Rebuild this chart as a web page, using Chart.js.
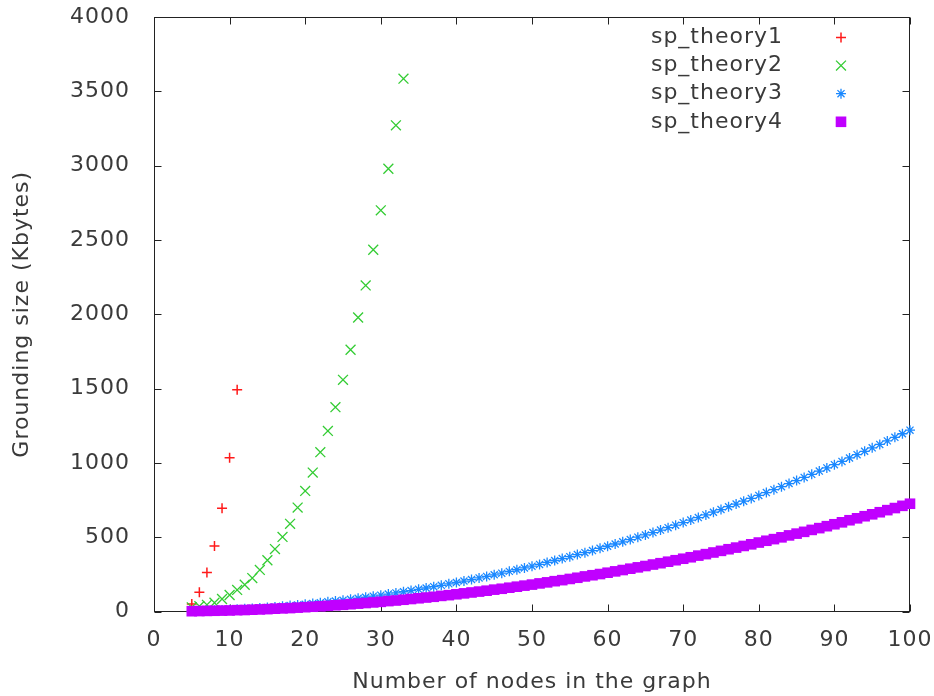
<!DOCTYPE html>
<html>
<head>
<meta charset="utf-8">
<script src="https://cdn.jsdelivr.net/npm/chart.js@4"></script>
<style>
  html, body { margin: 0; padding: 0; background: #fff; }
  #wrap { width: 934px; height: 696px; position: relative; }
</style>
</head>
<body>
<div id="wrap"><canvas id="groundingChart"></canvas></div>
<script>
// values
const nodes1 = [5, 6, 7, 8, 9, 10, 11];
const theory1 = [50, 130, 262, 440, 695, 1035, 1492];

const nodes2 = [5, 6, 7, 8, 9, 10, 11, 12, 13, 14, 15, 16, 17, 18, 19,
  20, 21, 22, 23, 24, 25, 26, 27, 28, 29, 30, 31, 32, 33];
const theory2 = [28, 36, 45, 59, 84, 111, 145, 180, 225, 280, 345, 420, 502, 590, 699,
  811, 935, 1072, 1215, 1375, 1559, 1761, 1978, 2194, 2434, 2699, 2979, 3271, 3585];

const nodes34 = [5, 6, 7, 8, 9, 10, 11, 12, 13, 14, 15, 16, 17, 18, 19, 20,
  21, 22, 23, 24, 25, 26, 27, 28, 29, 30, 31, 32, 33, 34, 35, 36, 37, 38, 39, 40,
  41, 42, 43, 44, 45, 46, 47, 48, 49, 50, 51, 52, 53, 54, 55, 56, 57, 58, 59, 60,
  61, 62, 63, 64, 65, 66, 67, 68, 69, 70, 71, 72, 73, 74, 75, 76, 77, 78, 79, 80,
  81, 82, 83, 84, 85, 86, 87, 88, 89, 90, 91, 92, 93, 94, 95, 96, 97, 98, 99, 100];
const theory3 = [3, 4, 6, 8, 10, 12, 15, 18, 21, 24, 27, 31, 35, 40, 44, 49,
  54, 59, 65, 70, 76, 82, 89, 96, 103, 110, 117, 125, 133, 141, 149, 158, 167, 176, 186, 195,
  205, 215, 226, 236, 247, 258, 270, 281, 293, 305, 317, 330, 343, 356, 369, 383, 396, 410, 425, 439,
  454, 469, 484, 500, 515, 531, 548, 564, 581, 598, 615, 632, 650, 668, 686, 705, 723, 742, 761, 781,
  800, 820, 840, 861, 881, 902, 923, 945, 966, 988, 1010, 1033, 1055, 1078, 1101, 1124, 1148, 1172, 1196, 1220];
const theory4 = [2, 3, 4, 5, 6, 7, 9, 10, 12, 14, 16, 19, 21, 23, 26, 29,
  32, 35, 38, 42, 45, 49, 53, 57, 61, 65, 70, 74, 79, 84, 89, 94, 99, 105, 110, 116,
  122, 128, 134, 140, 147, 153, 160, 167, 174, 181, 189, 196, 204, 211, 219, 227, 236, 244, 252, 261,
  270, 279, 288, 297, 306, 316, 325, 335, 345, 355, 365, 376, 386, 397, 408, 419, 430, 441, 452, 464,
  476, 487, 499, 512, 524, 536, 549, 561, 574, 587, 600, 614, 627, 641, 654, 668, 682, 696, 711, 725];

const TEXT = '#3a3a3a';
const FONT = 'DejaVu Sans';

function toPoints(xs, ys) {
  return xs.map((x, i) => ({ x: x, y: ys[i] }));
}

// fixed axis sizes; drop the label overhang padding so the plot box stays put
function fixSize(s, w, h) {
  if (w) s.width = w;
  if (h) s.height = h;
  s.paddingTop = 0;
  s.paddingBottom = 0;
  s.paddingLeft = 0;
  s.paddingRight = 0;
}

// wider glyph spacing, like the gnuplot png text
const spacingPlugin = {
  id: 'spacing',
  beforeLayout(chart) { chart.ctx.letterSpacing = '1px'; },
  beforeDraw(chart) { chart.ctx.letterSpacing = '1px'; }
};

// box border with inward ticks on all four sides
const framePlugin = {
  id: 'frame',
  beforeDatasetsDraw(chart) {
    const { ctx, chartArea: a, scales } = chart;
    ctx.save();
    ctx.strokeStyle = '#222';
    ctx.lineWidth = 1;
    const l = Math.round(a.left) + 0.5, r = Math.round(a.right) - 0.5;
    const t = Math.round(a.top) + 0.5, b = Math.round(a.bottom) - 0.5;
    ctx.strokeRect(l, t, r - l, b - t);
    ctx.beginPath();
    scales.x.ticks.forEach(tk => {
      const px = Math.round(scales.x.getPixelForValue(tk.value)) + 0.5;
      ctx.moveTo(px, b); ctx.lineTo(px, b - 7);
      ctx.moveTo(px, t); ctx.lineTo(px, t + 7);
    });
    scales.y.ticks.forEach(tk => {
      const py = Math.round(scales.y.getPixelForValue(tk.value)) + 0.5;
      ctx.moveTo(l, py); ctx.lineTo(l + 7, py);
      ctx.moveTo(r, py); ctx.lineTo(r - 7, py);
    });
    ctx.stroke();
    ctx.restore();
  }
};

// key in the top right corner of the plot
const keyPlugin = {
  id: 'key',
  afterDraw(chart) {
    const ctx = chart.ctx;
    ctx.save();
    ctx.letterSpacing = '1px';
    ctx.font = '22px "' + FONT + '"';
    ctx.textAlign = 'right';
    ctx.textBaseline = 'middle';
    chart.data.datasets.forEach((ds, i) => {
      const y = 37.5 + i * 28.1;
      ctx.fillStyle = TEXT;
      ctx.fillText(ds.label, 783, y);
      ctx.fillStyle = ds.backgroundColor;
      ctx.strokeStyle = ds.borderColor;
      ctx.lineWidth = ds.borderWidth;
      Chart.helpers.drawPoint(ctx, {
        pointStyle: ds.pointStyle,
        radius: ds.pointRadius,
        borderWidth: ds.borderWidth,
        rotation: 0
      }, 841, y);
    });
    ctx.restore();
  }
};

const ctx = document.getElementById('groundingChart').getContext('2d');
const groundingChart = new Chart(ctx, {
  type: 'scatter',
  data: {
    datasets: [{
      label: 'sp_theory1',
      data: toPoints(nodes1, theory1),
      pointStyle: 'cross',
      pointRadius: 5,
      borderColor: '#ff1a1a',
      backgroundColor: '#ff1a1a',
      borderWidth: 1.5,
      order: 3,
      clip: false
    }, {
      label: 'sp_theory2',
      data: toPoints(nodes2, theory2),
      pointStyle: 'crossRot',
      pointRadius: 7,
      borderColor: '#33cc33',
      backgroundColor: '#33cc33',
      borderWidth: 1.3,
      order: 2,
      clip: false
    }, {
      label: 'sp_theory3',
      data: toPoints(nodes34, theory3),
      pointStyle: 'star',
      pointRadius: 5,
      borderColor: '#1a88ff',
      backgroundColor: '#1a88ff',
      borderWidth: 1.3,
      order: 1,
      clip: false
    }, {
      label: 'sp_theory4',
      data: toPoints(nodes34, theory4),
      pointStyle: 'rect',
      pointRadius: 7.5,
      borderColor: '#c000ff',
      backgroundColor: '#c000ff',
      borderWidth: 0,
      order: 0,
      clip: false
    }]
  },
  options: {
    responsive: true,
    maintainAspectRatio: false,
    animation: false,
    events: [],
    layout: { autoPadding: false, padding: { top: 17, right: 24, left: 0, bottom: 0 } },
    plugins: {
      legend: { display: false },
      tooltip: { enabled: false }
    },
    scales: {
      x: {
        type: 'linear',
        min: 0,
        max: 100,
        ticks: { stepSize: 10, color: TEXT, font: { family: FONT, size: 22 }, padding: 16, maxRotation: 0 },
        grid: { display: false, drawTicks: false },
        border: { display: false },
        title: {
          display: true,
          text: 'Number of nodes in the graph',
          color: TEXT,
          font: { family: FONT, size: 22 },
          padding: { top: 0, bottom: 1 }
        },
        afterFit: s => fixSize(s, 0, 84.5)
      },
      y: {
        min: 0,
        max: 4000,
        ticks: {
          stepSize: 500, color: TEXT, font: { family: FONT, size: 22 }, padding: 24,
          callback: v => String(v)
        },
        grid: { display: false, drawTicks: false },
        border: { display: false },
        title: {
          display: true,
          text: 'Grounding size (Kbytes)',
          color: TEXT,
          font: { family: FONT, size: 22 },
          padding: { top: 9, bottom: 0 }
        },
        afterFit: s => fixSize(s, 154, 0)
      }
    }
  },
  plugins: [spacingPlugin, framePlugin, keyPlugin]
});
</script>
</body>
</html>
